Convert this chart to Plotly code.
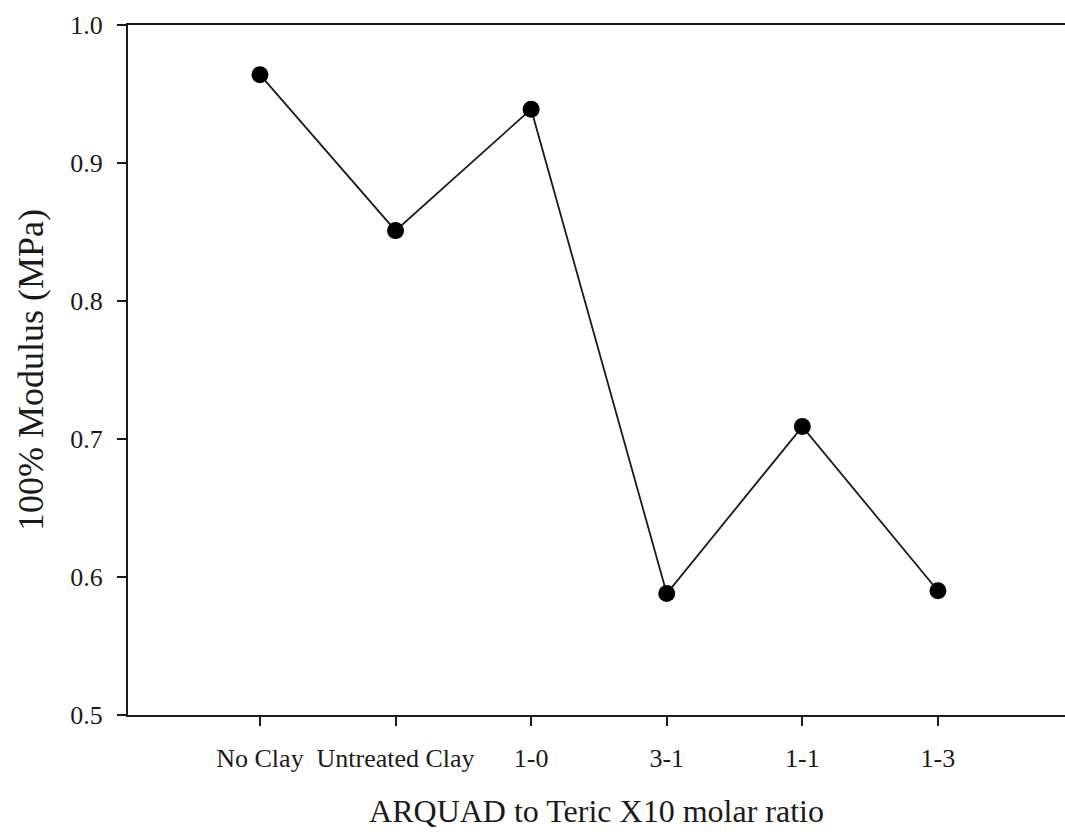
import plotly.graph_objects as go

categories = ["No Clay", "Untreated Clay", "1-0", "3-1", "1-1", "1-3"]
modulus = [0.964, 0.851, 0.939, 0.588, 0.709, 0.590]
y_ticks = [0.5, 0.6, 0.7, 0.8, 0.9, 1.0]
y_tick_labels = ["0.5", "0.6", "0.7", "0.8", "0.9", "1.0"]

x_pos = list(range(1, len(categories) + 1))

FONT = "Liberation Serif, Times New Roman, serif"
INK = "#1a1a1a"

fig = go.Figure()
fig.add_trace(go.Scatter(
    x=x_pos, y=modulus, mode="lines+markers",
    line=dict(color=INK, width=1.8),
    marker=dict(color="#000000", size=17),
    showlegend=False,
))

fig.update_layout(
    width=1065, height=838,
    margin=dict(l=128, r=0, t=25, b=123),
    paper_bgcolor="white", plot_bgcolor="white",
    font=dict(family=FONT, color=INK, size=26),
    xaxis=dict(
        range=[0.027, 6.937],
        tickmode="array", tickvals=x_pos, ticktext=categories,
        ticks="outside", ticklen=9, tickwidth=2, tickcolor=INK,
        showline=True, linecolor=INK, linewidth=2, mirror=True,
        showgrid=False, zeroline=False,
        tickfont=dict(size=26, family=FONT, color=INK),
        ticklabelstandoff=10,
        title=dict(text="ARQUAD to Teric X10 molar ratio",
                   font=dict(size=32, family=FONT, color=INK), standoff=27),
    ),
    yaxis=dict(
        range=[0.5, 1.0],
        tickmode="array", tickvals=y_ticks, ticktext=y_tick_labels,
        ticks="outside", ticklen=9, tickwidth=2, tickcolor=INK,
        showline=True, linecolor=INK, linewidth=2,
        showgrid=False, zeroline=False,
        tickfont=dict(size=26, family=FONT, color=INK),
        ticklabelstandoff=9,
        title=dict(text="100% Modulus (MPa)",
                   font=dict(size=36, family=FONT, color=INK), standoff=16),
    ),
)

fig.write_html("out.html")
